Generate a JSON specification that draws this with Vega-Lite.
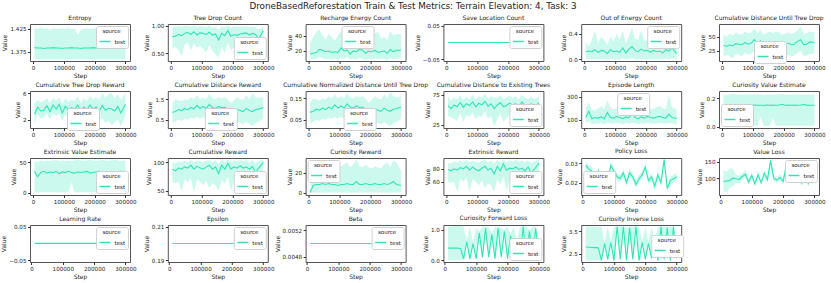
{
"$schema": "https://vega.github.io/schema/vega-lite/v6.json",
"title": {"text": "DroneBasedReforestation Train & Test Metrics: Terrain Elevation: 4, Task: 3", "fontSize": 8.8, "fontWeight": "normal", "anchor": "middle", "offset": 3, "font": "DejaVu Sans", "color": "#222"},
"padding": {"left": 0, "right": 0, "top": 2, "bottom": 0},
"columns": 6,
"spacing": {"row": 30, "column": 37.8},
"bounds": "flush",
"resolve": {"scale": {"color": "independent"}, "legend": {"color": "independent"}},
"config": {
 "font": "DejaVu Sans",
 "view": {"stroke": "#555", "strokeWidth": 1},
 "axis": {"grid": false, "domain": false, "labelFontSize": 5.6, "titleFontSize": 6, "titleFontWeight": "normal", "tickSize": 2.5, "tickColor": "#333", "labelColor": "#222", "titleColor": "#222", "labelPadding": 1.5, "titlePadding": 2},
 "axisX": {"labelFlush": false, "labelOverlap": false},
 "title": {"fontSize": 6, "fontWeight": "normal", "offset": 3, "color": "#222"},
 "legend": {"titleFontSize": 5.5, "labelFontSize": 5.5, "titleFontWeight": "normal", "symbolType": "stroke", "symbolStrokeWidth": 1.5, "symbolSize": 120, "padding": 2.5, "strokeColor": "#d0d0d0", "fillColor": "white", "cornerRadius": 2, "offset": 2, "titleAnchor": "middle", "titlePadding": 1, "labelOffset": 3, "titleColor": "#222", "labelColor": "#222"}
},
"datasets": {
"entropy": [
{"Step":5000,"Value":1.384,"lo":1.358,"hi":1.426},{"Step":15000,"Value":1.383,"lo":1.358,"hi":1.425},{"Step":25000,"Value":1.383,"lo":1.358,"hi":1.427},{"Step":35000,"Value":1.382,"lo":1.358,"hi":1.424},{"Step":45000,"Value":1.383,"lo":1.358,"hi":1.426},{"Step":55000,"Value":1.383,"lo":1.358,"hi":1.421},{"Step":65000,"Value":1.384,"lo":1.358,"hi":1.426},{"Step":75000,"Value":1.383,"lo":1.358,"hi":1.425},{"Step":85000,"Value":1.383,"lo":1.358,"hi":1.424},{"Step":95000,"Value":1.382,"lo":1.358,"hi":1.426},{"Step":105000,"Value":1.383,"lo":1.358,"hi":1.425},{"Step":115000,"Value":1.383,"lo":1.358,"hi":1.426},{"Step":125000,"Value":1.384,"lo":1.358,"hi":1.424},{"Step":135000,"Value":1.383,"lo":1.358,"hi":1.425},{"Step":145000,"Value":1.383,"lo":1.358,"hi":1.411},{"Step":155000,"Value":1.382,"lo":1.358,"hi":1.422},{"Step":165000,"Value":1.383,"lo":1.358,"hi":1.425},{"Step":175000,"Value":1.383,"lo":1.358,"hi":1.426},{"Step":185000,"Value":1.383,"lo":1.358,"hi":1.424},{"Step":195000,"Value":1.384,"lo":1.358,"hi":1.425},{"Step":205000,"Value":1.383,"lo":1.358,"hi":1.426},{"Step":215000,"Value":1.383,"lo":1.358,"hi":1.425},{"Step":225000,"Value":1.382,"lo":1.358,"hi":1.424},{"Step":235000,"Value":1.383,"lo":1.358,"hi":1.426},{"Step":245000,"Value":1.383,"lo":1.358,"hi":1.425},{"Step":255000,"Value":1.383,"lo":1.358,"hi":1.424},{"Step":265000,"Value":1.384,"lo":1.358,"hi":1.426},{"Step":275000,"Value":1.383,"lo":1.358,"hi":1.425},{"Step":285000,"Value":1.383,"lo":1.358,"hi":1.426},{"Step":300000,"Value":1.385,"lo":1.358,"hi":1.424}
],
"treedrop": [
{"Step":5000,"Value":0.80,"lo":0.58,"hi":0.97},{"Step":15000,"Value":0.81,"lo":0.62,"hi":0.98},{"Step":25000,"Value":0.84,"lo":0.55,"hi":0.99},{"Step":35000,"Value":0.82,"lo":0.45,"hi":0.97},{"Step":45000,"Value":0.86,"lo":0.66,"hi":1.0},{"Step":55000,"Value":0.88,"lo":0.70,"hi":0.99},{"Step":65000,"Value":0.84,"lo":0.55,"hi":0.98},{"Step":75000,"Value":0.89,"lo":0.68,"hi":1.0},{"Step":85000,"Value":0.83,"lo":0.60,"hi":0.97},{"Step":95000,"Value":0.87,"lo":0.63,"hi":0.99},{"Step":105000,"Value":0.86,"lo":0.58,"hi":0.98},{"Step":115000,"Value":0.84,"lo":0.52,"hi":0.97},{"Step":125000,"Value":0.88,"lo":0.65,"hi":1.0},{"Step":135000,"Value":0.83,"lo":0.55,"hi":0.96},{"Step":145000,"Value":0.85,"lo":0.48,"hi":0.98},{"Step":155000,"Value":0.74,"lo":0.42,"hi":0.92},{"Step":165000,"Value":0.86,"lo":0.62,"hi":0.99},{"Step":175000,"Value":0.82,"lo":0.50,"hi":0.97},{"Step":185000,"Value":0.91,"lo":0.70,"hi":1.0},{"Step":195000,"Value":0.81,"lo":0.55,"hi":0.96},{"Step":205000,"Value":0.84,"lo":0.62,"hi":0.98},{"Step":215000,"Value":0.82,"lo":0.58,"hi":0.97},{"Step":225000,"Value":0.85,"lo":0.64,"hi":0.99},{"Step":235000,"Value":0.86,"lo":0.66,"hi":0.98},{"Step":245000,"Value":0.87,"lo":0.60,"hi":0.99},{"Step":255000,"Value":0.83,"lo":0.57,"hi":0.97},{"Step":265000,"Value":0.86,"lo":0.63,"hi":0.98},{"Step":275000,"Value":0.84,"lo":0.60,"hi":0.97},{"Step":285000,"Value":0.76,"lo":0.50,"hi":0.93},{"Step":300000,"Value":0.91,"lo":0.74,"hi":0.99}
],
"recharge": [
{"Step":5000,"Value":16,"lo":10,"hi":30},{"Step":15000,"Value":17,"lo":9,"hi":38},{"Step":25000,"Value":18,"lo":10,"hi":45},{"Step":35000,"Value":22,"lo":12,"hi":48},{"Step":45000,"Value":21,"lo":11,"hi":40},{"Step":55000,"Value":19,"lo":9,"hi":35},{"Step":65000,"Value":20,"lo":10,"hi":42},{"Step":75000,"Value":18,"lo":9,"hi":38},{"Step":85000,"Value":19,"lo":10,"hi":33},{"Step":95000,"Value":18,"lo":8,"hi":40},{"Step":105000,"Value":24,"lo":11,"hi":46},{"Step":115000,"Value":20,"lo":10,"hi":38},{"Step":125000,"Value":21,"lo":12,"hi":45},{"Step":135000,"Value":16,"lo":9,"hi":30},{"Step":145000,"Value":20,"lo":10,"hi":35},{"Step":155000,"Value":19,"lo":9,"hi":40},{"Step":165000,"Value":22,"lo":11,"hi":44},{"Step":175000,"Value":21,"lo":10,"hi":42},{"Step":185000,"Value":17,"lo":8,"hi":35},{"Step":195000,"Value":20,"lo":10,"hi":40},{"Step":205000,"Value":19,"lo":9,"hi":38},{"Step":215000,"Value":21,"lo":11,"hi":43},{"Step":225000,"Value":18,"lo":9,"hi":45},{"Step":235000,"Value":19,"lo":10,"hi":36},{"Step":245000,"Value":20,"lo":10,"hi":38},{"Step":255000,"Value":17,"lo":8,"hi":34},{"Step":265000,"Value":22,"lo":11,"hi":46},{"Step":275000,"Value":19,"lo":9,"hi":40},{"Step":285000,"Value":21,"lo":10,"hi":42},{"Step":300000,"Value":21,"lo":11,"hi":42}
],
"saveloc": [
{"Step":5000,"Value":0,"lo":0,"hi":0},{"Step":300000,"Value":0,"lo":0,"hi":0}
],
"outenergy": [
{"Step":5000,"Value":0.12,"lo":0.0,"hi":0.27},{"Step":15000,"Value":0.13,"lo":0.01,"hi":0.20},{"Step":25000,"Value":0.12,"lo":0.0,"hi":0.30},{"Step":35000,"Value":0.15,"lo":0.0,"hi":0.45},{"Step":45000,"Value":0.11,"lo":0.0,"hi":0.25},{"Step":55000,"Value":0.14,"lo":0.01,"hi":0.35},{"Step":65000,"Value":0.13,"lo":0.0,"hi":0.30},{"Step":75000,"Value":0.09,"lo":0.0,"hi":0.22},{"Step":85000,"Value":0.15,"lo":0.01,"hi":0.35},{"Step":95000,"Value":0.12,"lo":0.0,"hi":0.28},{"Step":105000,"Value":0.13,"lo":0.0,"hi":0.40},{"Step":115000,"Value":0.11,"lo":0.0,"hi":0.30},{"Step":125000,"Value":0.18,"lo":0.02,"hi":0.45},{"Step":135000,"Value":0.10,"lo":0.0,"hi":0.25},{"Step":145000,"Value":0.16,"lo":0.01,"hi":0.35},{"Step":155000,"Value":0.20,"lo":0.02,"hi":0.50},{"Step":165000,"Value":0.14,"lo":0.0,"hi":0.32},{"Step":175000,"Value":0.12,"lo":0.0,"hi":0.30},{"Step":185000,"Value":0.16,"lo":0.01,"hi":0.45},{"Step":195000,"Value":0.13,"lo":0.0,"hi":0.28},{"Step":205000,"Value":0.14,"lo":0.0,"hi":0.30},{"Step":215000,"Value":0.11,"lo":0.0,"hi":0.25},{"Step":225000,"Value":0.14,"lo":0.0,"hi":0.40},{"Step":235000,"Value":0.12,"lo":0.0,"hi":0.30},{"Step":245000,"Value":0.13,"lo":0.0,"hi":0.35},{"Step":255000,"Value":0.10,"lo":0.0,"hi":0.26},{"Step":265000,"Value":0.15,"lo":0.01,"hi":0.40},{"Step":275000,"Value":0.13,"lo":0.0,"hi":0.30},{"Step":285000,"Value":0.18,"lo":0.02,"hi":0.42},{"Step":300000,"Value":0.09,"lo":0.0,"hi":0.25}
],
"cumdist": [
{"Step":5000,"Value":35,"lo":15,"hi":55},{"Step":15000,"Value":33,"lo":18,"hi":50},{"Step":25000,"Value":36,"lo":16,"hi":56},{"Step":35000,"Value":34,"lo":12,"hi":52},{"Step":45000,"Value":38,"lo":20,"hi":58},{"Step":55000,"Value":37,"lo":18,"hi":55},{"Step":65000,"Value":36,"lo":15,"hi":54},{"Step":75000,"Value":40,"lo":22,"hi":60},{"Step":85000,"Value":37,"lo":18,"hi":56},{"Step":95000,"Value":39,"lo":20,"hi":58},{"Step":105000,"Value":45,"lo":25,"hi":65},{"Step":115000,"Value":38,"lo":18,"hi":57},{"Step":125000,"Value":43,"lo":22,"hi":62},{"Step":135000,"Value":36,"lo":14,"hi":54},{"Step":145000,"Value":38,"lo":18,"hi":57},{"Step":155000,"Value":40,"lo":20,"hi":60},{"Step":165000,"Value":37,"lo":17,"hi":56},{"Step":175000,"Value":41,"lo":20,"hi":60},{"Step":185000,"Value":38,"lo":18,"hi":58},{"Step":195000,"Value":36,"lo":15,"hi":54},{"Step":205000,"Value":37,"lo":16,"hi":56},{"Step":215000,"Value":39,"lo":18,"hi":58},{"Step":225000,"Value":36,"lo":15,"hi":55},{"Step":235000,"Value":37,"lo":17,"hi":57},{"Step":245000,"Value":42,"lo":22,"hi":62},{"Step":255000,"Value":45,"lo":25,"hi":68},{"Step":265000,"Value":36,"lo":16,"hi":55},{"Step":275000,"Value":37,"lo":17,"hi":56},{"Step":285000,"Value":41,"lo":20,"hi":60},{"Step":300000,"Value":40,"lo":20,"hi":58}
],
"treereward": [
{"Step":5000,"Value":2.8,"lo":1.5,"hi":4.4},{"Step":15000,"Value":3.9,"lo":2.8,"hi":5.0},{"Step":25000,"Value":3.3,"lo":2.2,"hi":4.6},{"Step":35000,"Value":3.4,"lo":2.3,"hi":4.8},{"Step":45000,"Value":4.1,"lo":3.0,"hi":5.2},{"Step":55000,"Value":3.2,"lo":2.0,"hi":4.5},{"Step":65000,"Value":4.2,"lo":3.0,"hi":5.3},{"Step":75000,"Value":3.6,"lo":2.5,"hi":4.8},{"Step":85000,"Value":4.3,"lo":3.0,"hi":5.4},{"Step":95000,"Value":3.0,"lo":1.8,"hi":4.3},{"Step":105000,"Value":4.0,"lo":2.8,"hi":5.2},{"Step":115000,"Value":3.5,"lo":2.3,"hi":4.7},{"Step":125000,"Value":3.8,"lo":2.6,"hi":5.0},{"Step":135000,"Value":3.6,"lo":2.4,"hi":4.8},{"Step":145000,"Value":4.2,"lo":2.9,"hi":5.5},{"Step":155000,"Value":3.3,"lo":2.0,"hi":4.5},{"Step":165000,"Value":3.9,"lo":2.6,"hi":5.2},{"Step":175000,"Value":3.5,"lo":2.2,"hi":4.8},{"Step":185000,"Value":4.2,"lo":2.8,"hi":5.6},{"Step":195000,"Value":3.6,"lo":2.1,"hi":5.0},{"Step":205000,"Value":3.9,"lo":2.4,"hi":5.4},{"Step":215000,"Value":3.3,"lo":1.8,"hi":5.0},{"Step":225000,"Value":4.1,"lo":2.2,"hi":6.0},{"Step":235000,"Value":3.4,"lo":1.5,"hi":5.3},{"Step":245000,"Value":3.7,"lo":1.8,"hi":5.8},{"Step":255000,"Value":3.6,"lo":1.2,"hi":6.0},{"Step":265000,"Value":3.3,"lo":1.5,"hi":5.2},{"Step":275000,"Value":4.0,"lo":2.0,"hi":5.8},{"Step":285000,"Value":3.0,"lo":1.0,"hi":5.0},{"Step":300000,"Value":4.3,"lo":2.6,"hi":6.0}
],
"distreward": [
{"Step":5000,"Value":0.85,"lo":0.35,"hi":1.3},{"Step":15000,"Value":0.90,"lo":0.4,"hi":1.5},{"Step":25000,"Value":1.00,"lo":0.5,"hi":1.45},{"Step":35000,"Value":0.95,"lo":0.45,"hi":1.4},{"Step":45000,"Value":1.05,"lo":0.55,"hi":1.5},{"Step":55000,"Value":0.98,"lo":0.5,"hi":1.45},{"Step":65000,"Value":1.10,"lo":0.6,"hi":1.6},{"Step":75000,"Value":1.02,"lo":0.55,"hi":1.5},{"Step":85000,"Value":1.20,"lo":0.65,"hi":1.7},{"Step":95000,"Value":1.05,"lo":0.55,"hi":1.5},{"Step":105000,"Value":1.15,"lo":0.65,"hi":1.6},{"Step":115000,"Value":1.05,"lo":0.55,"hi":1.5},{"Step":125000,"Value":1.25,"lo":0.7,"hi":1.75},{"Step":135000,"Value":1.10,"lo":0.6,"hi":1.55},{"Step":145000,"Value":1.05,"lo":0.55,"hi":1.5},{"Step":155000,"Value":1.15,"lo":0.65,"hi":1.6},{"Step":165000,"Value":1.08,"lo":0.6,"hi":1.55},{"Step":175000,"Value":1.10,"lo":0.55,"hi":1.6},{"Step":185000,"Value":1.00,"lo":0.45,"hi":1.5},{"Step":195000,"Value":0.75,"lo":0.25,"hi":1.3},{"Step":205000,"Value":0.90,"lo":0.3,"hi":1.45},{"Step":215000,"Value":1.00,"lo":0.4,"hi":1.6},{"Step":225000,"Value":0.95,"lo":0.35,"hi":1.5},{"Step":235000,"Value":0.90,"lo":0.3,"hi":1.45},{"Step":245000,"Value":1.05,"lo":0.4,"hi":1.7},{"Step":255000,"Value":0.95,"lo":0.3,"hi":1.5},{"Step":265000,"Value":0.90,"lo":0.2,"hi":1.8},{"Step":275000,"Value":1.00,"lo":0.35,"hi":1.6},{"Step":285000,"Value":1.02,"lo":0.4,"hi":1.55},{"Step":300000,"Value":1.10,"lo":0.55,"hi":1.6}
],
"normdist": [
{"Step":5000,"Value":0.085,"lo":0.035,"hi":0.13},{"Step":15000,"Value":0.09,"lo":0.04,"hi":0.15},{"Step":25000,"Value":0.10,"lo":0.05,"hi":0.145},{"Step":35000,"Value":0.095,"lo":0.045,"hi":0.14},{"Step":45000,"Value":0.105,"lo":0.055,"hi":0.15},{"Step":55000,"Value":0.098,"lo":0.05,"hi":0.145},{"Step":65000,"Value":0.11,"lo":0.06,"hi":0.16},{"Step":75000,"Value":0.102,"lo":0.055,"hi":0.15},{"Step":85000,"Value":0.12,"lo":0.065,"hi":0.17},{"Step":95000,"Value":0.105,"lo":0.055,"hi":0.15},{"Step":105000,"Value":0.115,"lo":0.065,"hi":0.16},{"Step":115000,"Value":0.105,"lo":0.055,"hi":0.15},{"Step":125000,"Value":0.125,"lo":0.07,"hi":0.175},{"Step":135000,"Value":0.11,"lo":0.06,"hi":0.155},{"Step":145000,"Value":0.105,"lo":0.055,"hi":0.15},{"Step":155000,"Value":0.115,"lo":0.065,"hi":0.16},{"Step":165000,"Value":0.108,"lo":0.06,"hi":0.155},{"Step":175000,"Value":0.11,"lo":0.055,"hi":0.16},{"Step":185000,"Value":0.10,"lo":0.045,"hi":0.15},{"Step":195000,"Value":0.075,"lo":0.025,"hi":0.13},{"Step":205000,"Value":0.09,"lo":0.03,"hi":0.145},{"Step":215000,"Value":0.10,"lo":0.04,"hi":0.16},{"Step":225000,"Value":0.095,"lo":0.035,"hi":0.15},{"Step":235000,"Value":0.09,"lo":0.03,"hi":0.145},{"Step":245000,"Value":0.105,"lo":0.04,"hi":0.17},{"Step":255000,"Value":0.095,"lo":0.03,"hi":0.15},{"Step":265000,"Value":0.09,"lo":0.02,"hi":0.18},{"Step":275000,"Value":0.10,"lo":0.035,"hi":0.16},{"Step":285000,"Value":0.102,"lo":0.04,"hi":0.155},{"Step":300000,"Value":0.11,"lo":0.055,"hi":0.16}
],
"existing": [
{"Step":5000,"Value":57,"lo":40,"hi":72},{"Step":15000,"Value":52,"lo":38,"hi":65},{"Step":25000,"Value":58,"lo":35,"hi":70},{"Step":35000,"Value":55,"lo":32,"hi":68},{"Step":45000,"Value":62,"lo":45,"hi":74},{"Step":55000,"Value":54,"lo":30,"hi":66},{"Step":65000,"Value":60,"lo":42,"hi":72},{"Step":75000,"Value":57,"lo":38,"hi":68},{"Step":85000,"Value":63,"lo":45,"hi":75},{"Step":95000,"Value":55,"lo":35,"hi":67},{"Step":105000,"Value":61,"lo":40,"hi":72},{"Step":115000,"Value":58,"lo":38,"hi":70},{"Step":125000,"Value":64,"lo":48,"hi":76},{"Step":135000,"Value":56,"lo":35,"hi":68},{"Step":145000,"Value":60,"lo":40,"hi":72},{"Step":155000,"Value":52,"lo":22,"hi":70},{"Step":165000,"Value":58,"lo":35,"hi":70},{"Step":175000,"Value":62,"lo":45,"hi":74},{"Step":185000,"Value":55,"lo":30,"hi":68},{"Step":195000,"Value":57,"lo":36,"hi":70},{"Step":205000,"Value":61,"lo":42,"hi":73},{"Step":215000,"Value":58,"lo":38,"hi":70},{"Step":225000,"Value":60,"lo":40,"hi":72},{"Step":235000,"Value":54,"lo":32,"hi":67},{"Step":245000,"Value":63,"lo":45,"hi":75},{"Step":255000,"Value":57,"lo":36,"hi":70},{"Step":265000,"Value":55,"lo":35,"hi":68},{"Step":275000,"Value":60,"lo":40,"hi":72},{"Step":285000,"Value":52,"lo":32,"hi":68},{"Step":300000,"Value":62,"lo":48,"hi":72}
],
"eplen": [
{"Step":5000,"Value":120,"lo":70,"hi":200},{"Step":15000,"Value":175,"lo":90,"hi":250},{"Step":25000,"Value":110,"lo":60,"hi":190},{"Step":35000,"Value":120,"lo":70,"hi":180},{"Step":45000,"Value":115,"lo":65,"hi":200},{"Step":55000,"Value":125,"lo":75,"hi":220},{"Step":65000,"Value":110,"lo":60,"hi":190},{"Step":75000,"Value":165,"lo":80,"hi":270},{"Step":85000,"Value":120,"lo":70,"hi":210},{"Step":95000,"Value":115,"lo":65,"hi":190},{"Step":105000,"Value":130,"lo":75,"hi":200},{"Step":115000,"Value":120,"lo":70,"hi":190},{"Step":125000,"Value":110,"lo":60,"hi":180},{"Step":135000,"Value":125,"lo":75,"hi":200},{"Step":145000,"Value":115,"lo":65,"hi":190},{"Step":155000,"Value":180,"lo":80,"hi":290},{"Step":165000,"Value":120,"lo":70,"hi":210},{"Step":175000,"Value":110,"lo":60,"hi":190},{"Step":185000,"Value":125,"lo":70,"hi":200},{"Step":195000,"Value":115,"lo":65,"hi":190},{"Step":205000,"Value":130,"lo":75,"hi":200},{"Step":215000,"Value":120,"lo":70,"hi":190},{"Step":225000,"Value":115,"lo":65,"hi":195},{"Step":235000,"Value":125,"lo":70,"hi":210},{"Step":245000,"Value":130,"lo":75,"hi":220},{"Step":255000,"Value":120,"lo":70,"hi":200},{"Step":265000,"Value":115,"lo":65,"hi":190},{"Step":275000,"Value":150,"lo":75,"hi":320},{"Step":285000,"Value":120,"lo":70,"hi":210},{"Step":300000,"Value":112,"lo":60,"hi":190}
],
"curval": [
{"Step":5000,"Value":0.150,"lo":0.0,"hi":0.225},{"Step":15000,"Value":0.140,"lo":0.005,"hi":0.22},{"Step":25000,"Value":0.150,"lo":0.005,"hi":0.225},{"Step":35000,"Value":0.152,"lo":0.005,"hi":0.23},{"Step":45000,"Value":0.150,"lo":0.005,"hi":0.225},{"Step":55000,"Value":0.151,"lo":0.005,"hi":0.226},{"Step":65000,"Value":0.150,"lo":0.005,"hi":0.224},{"Step":75000,"Value":0.152,"lo":0.005,"hi":0.225},{"Step":85000,"Value":0.150,"lo":0.005,"hi":0.226},{"Step":95000,"Value":0.151,"lo":0.005,"hi":0.225},{"Step":105000,"Value":0.152,"lo":0.005,"hi":0.224},{"Step":115000,"Value":0.150,"lo":0.005,"hi":0.226},{"Step":125000,"Value":0.150,"lo":0.07,"hi":0.225},{"Step":135000,"Value":0.148,"lo":0.005,"hi":0.222},{"Step":145000,"Value":0.152,"lo":0.005,"hi":0.225},{"Step":155000,"Value":0.150,"lo":0.005,"hi":0.226},{"Step":165000,"Value":0.151,"lo":0.06,"hi":0.224},{"Step":175000,"Value":0.150,"lo":0.005,"hi":0.225},{"Step":185000,"Value":0.152,"lo":0.005,"hi":0.226},{"Step":195000,"Value":0.157,"lo":0.005,"hi":0.23},{"Step":205000,"Value":0.150,"lo":0.005,"hi":0.225},{"Step":215000,"Value":0.151,"lo":0.005,"hi":0.224},{"Step":225000,"Value":0.150,"lo":0.005,"hi":0.225},{"Step":235000,"Value":0.152,"lo":0.005,"hi":0.226},{"Step":245000,"Value":0.150,"lo":0.005,"hi":0.225},{"Step":255000,"Value":0.152,"lo":0.005,"hi":0.224},{"Step":265000,"Value":0.155,"lo":0.005,"hi":0.225},{"Step":275000,"Value":0.151,"lo":0.005,"hi":0.226},{"Step":285000,"Value":0.150,"lo":0.005,"hi":0.224},{"Step":300000,"Value":0.150,"lo":0.005,"hi":0.225}
],
"extval": [
{"Step":5000,"Value":35,"lo":0.5,"hi":52},{"Step":15000,"Value":26,"lo":0.5,"hi":50},{"Step":25000,"Value":33,"lo":0.5,"hi":53},{"Step":35000,"Value":35,"lo":0.5,"hi":52},{"Step":45000,"Value":32,"lo":0.5,"hi":53},{"Step":55000,"Value":34,"lo":0.5,"hi":52},{"Step":65000,"Value":33,"lo":0.5,"hi":53},{"Step":75000,"Value":35,"lo":0.5,"hi":54},{"Step":85000,"Value":31,"lo":0.5,"hi":52},{"Step":95000,"Value":34,"lo":0.5,"hi":53},{"Step":105000,"Value":33,"lo":0.5,"hi":52},{"Step":115000,"Value":35,"lo":0.5,"hi":53},{"Step":125000,"Value":33,"lo":17,"hi":52},{"Step":135000,"Value":32,"lo":0.5,"hi":53},{"Step":145000,"Value":34,"lo":0.5,"hi":54},{"Step":155000,"Value":33,"lo":0.5,"hi":53},{"Step":165000,"Value":34,"lo":0.5,"hi":52},{"Step":175000,"Value":35,"lo":0.5,"hi":53},{"Step":185000,"Value":32,"lo":0.5,"hi":54},{"Step":195000,"Value":33,"lo":0.5,"hi":53},{"Step":205000,"Value":34,"lo":0.5,"hi":52},{"Step":215000,"Value":35,"lo":0.5,"hi":53},{"Step":225000,"Value":34,"lo":0.5,"hi":54},{"Step":235000,"Value":33,"lo":0.5,"hi":53},{"Step":245000,"Value":34,"lo":0.5,"hi":52},{"Step":255000,"Value":33,"lo":0.5,"hi":53},{"Step":265000,"Value":32,"lo":0.5,"hi":54},{"Step":275000,"Value":34,"lo":0.5,"hi":53},{"Step":285000,"Value":35,"lo":0.5,"hi":52},{"Step":300000,"Value":34,"lo":0.5,"hi":53}
],
"cumreward": [
{"Step":5000,"Value":88,"lo":66,"hi":100},{"Step":15000,"Value":85,"lo":64,"hi":98},{"Step":25000,"Value":90,"lo":66,"hi":102},{"Step":35000,"Value":88,"lo":50,"hi":100},{"Step":45000,"Value":92,"lo":70,"hi":103},{"Step":55000,"Value":90,"lo":65,"hi":100},{"Step":65000,"Value":95,"lo":72,"hi":104},{"Step":75000,"Value":88,"lo":48,"hi":100},{"Step":85000,"Value":93,"lo":70,"hi":103},{"Step":95000,"Value":90,"lo":66,"hi":102},{"Step":105000,"Value":88,"lo":60,"hi":100},{"Step":115000,"Value":92,"lo":68,"hi":103},{"Step":125000,"Value":95,"lo":55,"hi":104},{"Step":135000,"Value":88,"lo":64,"hi":100},{"Step":145000,"Value":92,"lo":60,"hi":103},{"Step":155000,"Value":80,"lo":50,"hi":97},{"Step":165000,"Value":95,"lo":70,"hi":104},{"Step":175000,"Value":88,"lo":62,"hi":100},{"Step":185000,"Value":98,"lo":75,"hi":105},{"Step":195000,"Value":88,"lo":50,"hi":100},{"Step":205000,"Value":92,"lo":68,"hi":103},{"Step":215000,"Value":90,"lo":66,"hi":102},{"Step":225000,"Value":94,"lo":70,"hi":104},{"Step":235000,"Value":90,"lo":65,"hi":102},{"Step":245000,"Value":92,"lo":68,"hi":103},{"Step":255000,"Value":88,"lo":50,"hi":100},{"Step":265000,"Value":93,"lo":70,"hi":104},{"Step":275000,"Value":82,"lo":48,"hi":98},{"Step":285000,"Value":90,"lo":68,"hi":102},{"Step":300000,"Value":100,"lo":82,"hi":105}
],
"curreward": [
{"Step":5000,"Value":0,"lo":0,"hi":0},{"Step":15000,"Value":7,"lo":0,"hi":25},{"Step":25000,"Value":8,"lo":0,"hi":28},{"Step":35000,"Value":8,"lo":0,"hi":30},{"Step":45000,"Value":9,"lo":0,"hi":28},{"Step":55000,"Value":8,"lo":0,"hi":30},{"Step":65000,"Value":9,"lo":0,"hi":28},{"Step":75000,"Value":8,"lo":0,"hi":26},{"Step":85000,"Value":8,"lo":0,"hi":28},{"Step":95000,"Value":7,"lo":0,"hi":27},{"Step":105000,"Value":8,"lo":0,"hi":26},{"Step":115000,"Value":8,"lo":0,"hi":28},{"Step":125000,"Value":9,"lo":0,"hi":30},{"Step":135000,"Value":8,"lo":0,"hi":25},{"Step":145000,"Value":8,"lo":0,"hi":28},{"Step":155000,"Value":11,"lo":0,"hi":33},{"Step":165000,"Value":8,"lo":0,"hi":26},{"Step":175000,"Value":8,"lo":0,"hi":25},{"Step":185000,"Value":9,"lo":0,"hi":28},{"Step":195000,"Value":8,"lo":0,"hi":25},{"Step":205000,"Value":8,"lo":0,"hi":24},{"Step":215000,"Value":9,"lo":0,"hi":26},{"Step":225000,"Value":8,"lo":0,"hi":25},{"Step":235000,"Value":8,"lo":0,"hi":24},{"Step":245000,"Value":9,"lo":0,"hi":28},{"Step":255000,"Value":8,"lo":0,"hi":30},{"Step":265000,"Value":9,"lo":0,"hi":25},{"Step":275000,"Value":11,"lo":0,"hi":32},{"Step":285000,"Value":8,"lo":0,"hi":30},{"Step":300000,"Value":7,"lo":0,"hi":22}
],
"extreward": [
{"Step":5000,"Value":79,"lo":60,"hi":90},{"Step":15000,"Value":77,"lo":58,"hi":88},{"Step":25000,"Value":80,"lo":60,"hi":92},{"Step":35000,"Value":78,"lo":44,"hi":90},{"Step":45000,"Value":82,"lo":64,"hi":93},{"Step":55000,"Value":80,"lo":60,"hi":90},{"Step":65000,"Value":84,"lo":66,"hi":94},{"Step":75000,"Value":78,"lo":44,"hi":90},{"Step":85000,"Value":83,"lo":64,"hi":93},{"Step":95000,"Value":79,"lo":60,"hi":91},{"Step":105000,"Value":77,"lo":54,"hi":90},{"Step":115000,"Value":81,"lo":62,"hi":93},{"Step":125000,"Value":84,"lo":50,"hi":94},{"Step":135000,"Value":78,"lo":58,"hi":90},{"Step":145000,"Value":81,"lo":54,"hi":93},{"Step":155000,"Value":72,"lo":44,"hi":88},{"Step":165000,"Value":84,"lo":64,"hi":94},{"Step":175000,"Value":77,"lo":56,"hi":90},{"Step":185000,"Value":88,"lo":68,"hi":95},{"Step":195000,"Value":78,"lo":45,"hi":90},{"Step":205000,"Value":81,"lo":62,"hi":93},{"Step":215000,"Value":80,"lo":60,"hi":91},{"Step":225000,"Value":83,"lo":64,"hi":94},{"Step":235000,"Value":79,"lo":58,"hi":91},{"Step":245000,"Value":81,"lo":62,"hi":93},{"Step":255000,"Value":77,"lo":44,"hi":90},{"Step":265000,"Value":83,"lo":64,"hi":93},{"Step":275000,"Value":74,"lo":44,"hi":89},{"Step":285000,"Value":79,"lo":62,"hi":92},{"Step":300000,"Value":89,"lo":74,"hi":95}
],
"policy": [
{"Step":10000,"Value":0.029,"lo":0.026,"hi":0.031},{"Step":20000,"Value":0.027,"lo":0.024,"hi":0.029},{"Step":30000,"Value":0.026,"lo":0.024,"hi":0.028},{"Step":40000,"Value":0.020,"lo":0.018,"hi":0.022},{"Step":50000,"Value":0.026,"lo":0.024,"hi":0.028},{"Step":60000,"Value":0.023,"lo":0.021,"hi":0.025},{"Step":70000,"Value":0.022,"lo":0.020,"hi":0.024},{"Step":80000,"Value":0.020,"lo":0.018,"hi":0.022},{"Step":90000,"Value":0.029,"lo":0.027,"hi":0.031},{"Step":100000,"Value":0.026,"lo":0.024,"hi":0.028},{"Step":110000,"Value":0.023,"lo":0.021,"hi":0.025},{"Step":120000,"Value":0.022,"lo":0.020,"hi":0.024},{"Step":130000,"Value":0.025,"lo":0.023,"hi":0.027},{"Step":140000,"Value":0.020,"lo":0.018,"hi":0.022},{"Step":150000,"Value":0.025,"lo":0.023,"hi":0.027},{"Step":160000,"Value":0.023,"lo":0.021,"hi":0.025},{"Step":170000,"Value":0.019,"lo":0.017,"hi":0.021},{"Step":180000,"Value":0.022,"lo":0.020,"hi":0.024},{"Step":190000,"Value":0.024,"lo":0.022,"hi":0.026},{"Step":200000,"Value":0.028,"lo":0.026,"hi":0.030},{"Step":210000,"Value":0.021,"lo":0.019,"hi":0.023},{"Step":220000,"Value":0.023,"lo":0.021,"hi":0.025},{"Step":230000,"Value":0.018,"lo":0.016,"hi":0.020},{"Step":240000,"Value":0.024,"lo":0.022,"hi":0.026},{"Step":250000,"Value":0.020,"lo":0.018,"hi":0.022},{"Step":260000,"Value":0.032,"lo":0.028,"hi":0.0325},{"Step":270000,"Value":0.017,"lo":0.015,"hi":0.019},{"Step":280000,"Value":0.021,"lo":0.019,"hi":0.023},{"Step":290000,"Value":0.022,"lo":0.020,"hi":0.024},{"Step":300000,"Value":0.023,"lo":0.021,"hi":0.025}
],
"valueloss": [
{"Step":10000,"Value":90,"lo":60,"hi":125},{"Step":20000,"Value":91,"lo":55,"hi":120},{"Step":30000,"Value":93,"lo":70,"hi":130},{"Step":40000,"Value":100,"lo":75,"hi":130},{"Step":50000,"Value":98,"lo":85,"hi":110},{"Step":60000,"Value":96,"lo":85,"hi":108},{"Step":70000,"Value":105,"lo":95,"hi":115},{"Step":80000,"Value":112,"lo":100,"hi":125},{"Step":90000,"Value":88,"lo":80,"hi":97},{"Step":100000,"Value":108,"lo":98,"hi":118},{"Step":110000,"Value":82,"lo":74,"hi":92},{"Step":120000,"Value":110,"lo":100,"hi":120},{"Step":130000,"Value":86,"lo":78,"hi":95},{"Step":140000,"Value":115,"lo":104,"hi":126},{"Step":150000,"Value":95,"lo":86,"hi":104},{"Step":160000,"Value":155,"lo":130,"hi":160},{"Step":170000,"Value":100,"lo":90,"hi":110},{"Step":180000,"Value":94,"lo":85,"hi":103},{"Step":190000,"Value":102,"lo":92,"hi":112},{"Step":200000,"Value":90,"lo":82,"hi":99},{"Step":210000,"Value":138,"lo":120,"hi":150},{"Step":220000,"Value":96,"lo":86,"hi":106},{"Step":230000,"Value":108,"lo":96,"hi":120},{"Step":240000,"Value":92,"lo":83,"hi":101},{"Step":250000,"Value":112,"lo":100,"hi":124},{"Step":260000,"Value":85,"lo":76,"hi":94},{"Step":270000,"Value":118,"lo":104,"hi":130},{"Step":280000,"Value":84,"lo":75,"hi":93},{"Step":290000,"Value":110,"lo":98,"hi":122},{"Step":300000,"Value":100,"lo":90,"hi":110}
],
"lr": [
{"Step":10000,"Value":0.0003,"lo":0.0003,"hi":0.0003},{"Step":300000,"Value":0.0003,"lo":0.0003,"hi":0.0003}
],
"eps": [
{"Step":10000,"Value":0.2,"lo":0.2,"hi":0.2},{"Step":300000,"Value":0.2,"lo":0.2,"hi":0.2}
],
"beta": [
{"Step":10000,"Value":0.005,"lo":0.005,"hi":0.005},{"Step":300000,"Value":0.005,"lo":0.005,"hi":0.005}
],
"fwd": [
{"Step":10000,"Value":0.40,"lo":0.0,"hi":1.10},{"Step":20000,"Value":0.40,"lo":0.0,"hi":1.10},{"Step":30000,"Value":0.40,"lo":0.0,"hi":1.12},{"Step":40000,"Value":0.40,"lo":0.0,"hi":1.12},{"Step":50000,"Value":0.39,"lo":0.0,"hi":1.13},{"Step":60000,"Value":0.05,"lo":0.0,"hi":1.10},{"Step":70000,"Value":0.60,"lo":0.55,"hi":0.65},{"Step":80000,"Value":0.05,"lo":0.0,"hi":1.10},{"Step":90000,"Value":0.55,"lo":0.50,"hi":0.60},{"Step":100000,"Value":0.05,"lo":0.0,"hi":1.05},{"Step":110000,"Value":0.90,"lo":0.85,"hi":0.95},{"Step":120000,"Value":0.10,"lo":0.05,"hi":1.10},{"Step":130000,"Value":1.05,"lo":1.0,"hi":1.10},{"Step":140000,"Value":0.10,"lo":0.05,"hi":1.08},{"Step":150000,"Value":0.85,"lo":0.80,"hi":0.90},{"Step":160000,"Value":0.05,"lo":0.0,"hi":1.10},{"Step":170000,"Value":1.05,"lo":1.0,"hi":1.10},{"Step":180000,"Value":0.10,"lo":0.05,"hi":1.05},{"Step":190000,"Value":0.95,"lo":0.90,"hi":1.0},{"Step":200000,"Value":0.05,"lo":0.0,"hi":1.10},{"Step":210000,"Value":0.80,"lo":0.75,"hi":0.85},{"Step":220000,"Value":0.10,"lo":0.05,"hi":1.10},{"Step":230000,"Value":0.60,"lo":0.55,"hi":0.65},{"Step":240000,"Value":0.05,"lo":0.0,"hi":1.08},{"Step":250000,"Value":1.10,"lo":1.05,"hi":1.12},{"Step":260000,"Value":0.05,"lo":0.0,"hi":1.10},{"Step":270000,"Value":0.95,"lo":0.90,"hi":1.0},{"Step":280000,"Value":0.05,"lo":0.0,"hi":1.10},{"Step":290000,"Value":1.05,"lo":1.0,"hi":1.10},{"Step":300000,"Value":0.10,"lo":0.05,"hi":0.15}
],
"inv": [
{"Step":10000,"Value":2.80,"lo":2.2,"hi":3.7},{"Step":20000,"Value":2.79,"lo":2.2,"hi":3.7},{"Step":30000,"Value":2.78,"lo":2.2,"hi":3.7},{"Step":40000,"Value":2.77,"lo":2.2,"hi":3.7},{"Step":50000,"Value":2.76,"lo":2.2,"hi":3.68},{"Step":60000,"Value":2.20,"lo":2.17,"hi":3.7},{"Step":70000,"Value":2.95,"lo":2.9,"hi":3.0},{"Step":80000,"Value":2.25,"lo":2.22,"hi":3.7},{"Step":90000,"Value":3.00,"lo":2.95,"hi":3.05},{"Step":100000,"Value":2.20,"lo":2.17,"hi":3.68},{"Step":110000,"Value":3.70,"lo":3.65,"hi":3.72},{"Step":120000,"Value":2.25,"lo":2.22,"hi":3.7},{"Step":130000,"Value":3.70,"lo":3.65,"hi":3.72},{"Step":140000,"Value":2.20,"lo":2.17,"hi":3.66},{"Step":150000,"Value":3.65,"lo":3.6,"hi":3.7},{"Step":160000,"Value":2.25,"lo":2.22,"hi":3.7},{"Step":170000,"Value":3.70,"lo":3.65,"hi":3.72},{"Step":180000,"Value":2.20,"lo":2.17,"hi":3.68},{"Step":190000,"Value":3.00,"lo":2.95,"hi":3.05},{"Step":200000,"Value":2.25,"lo":2.22,"hi":3.7},{"Step":210000,"Value":2.95,"lo":2.9,"hi":3.0},{"Step":220000,"Value":2.30,"lo":2.27,"hi":3.7},{"Step":230000,"Value":3.00,"lo":2.95,"hi":3.05},{"Step":240000,"Value":2.20,"lo":2.17,"hi":3.68},{"Step":250000,"Value":3.70,"lo":3.65,"hi":3.72},{"Step":260000,"Value":2.25,"lo":2.22,"hi":3.7},{"Step":270000,"Value":3.65,"lo":3.6,"hi":3.7},{"Step":280000,"Value":2.20,"lo":2.17,"hi":3.7},{"Step":290000,"Value":3.70,"lo":3.65,"hi":3.72},{"Step":300000,"Value":2.30,"lo":2.27,"hi":2.35}
]
},
"concat": [
{"title": "Entropy", "width": 100, "height": 37, "data": {"name": "entropy"},
 "encoding": {"x": {"field": "Step", "type": "quantitative", "title": "Step", "scale": {"domain": [-9750, 314750], "nice": false, "zero": false}, "axis": {"values": [0, 100000, 200000, 300000], "format": "d"}}},
 "layer": [
  {"mark": {"type": "area", "color": "#2ee6b6", "opacity": 0.25}, "encoding": {"y": {"field": "lo", "type": "quantitative", "title": "Value", "scale": {"domain": [1.355, 1.435], "nice": false, "zero": false}, "axis": {"values": [1.375, 1.4, 1.425], "format": ".3f"}}, "y2": {"field": "hi"}}},
  {"mark": {"type": "line", "strokeWidth": 1.1}, "encoding": {"y": {"field": "Value", "type": "quantitative", "title": "Value", "scale": {"domain": [1.355, 1.435], "nice": false, "zero": false}}, "color": {"datum": "test", "type": "nominal", "scale": {"range": ["#2ee6b6"]}, "legend": {"title": "source", "orient": "top-right"}}}}
 ]},
{"title": "Tree Drop Count", "width": 100, "height": 37, "data": {"name": "treedrop"},
 "encoding": {"x": {"field": "Step", "type": "quantitative", "title": "Step", "scale": {"domain": [-9750, 314750], "nice": false, "zero": false}, "axis": {"values": [0, 100000, 200000, 300000], "format": "d"}}},
 "layer": [
  {"mark": {"type": "area", "color": "#2ee6b6", "opacity": 0.25}, "encoding": {"y": {"field": "lo", "type": "quantitative", "title": "Value", "scale": {"domain": [0.36, 1.03], "nice": false, "zero": false}, "axis": {"values": [0.5, 0.75, 1.0], "format": ".2f"}}, "y2": {"field": "hi"}}},
  {"mark": {"type": "line", "strokeWidth": 1.1}, "encoding": {"y": {"field": "Value", "type": "quantitative", "title": "Value", "scale": {"domain": [0.36, 1.03], "nice": false, "zero": false}}, "color": {"datum": "test", "type": "nominal", "scale": {"range": ["#2ee6b6"]}, "legend": {"title": "source", "orient": "bottom-right"}}}}
 ]},
{"title": "Recharge Energy Count", "width": 100, "height": 37, "data": {"name": "recharge"},
 "encoding": {"x": {"field": "Step", "type": "quantitative", "title": "Step", "scale": {"domain": [-9750, 314750], "nice": false, "zero": false}, "axis": {"values": [0, 100000, 200000, 300000], "format": "d"}}},
 "layer": [
  {"mark": {"type": "area", "color": "#2ee6b6", "opacity": 0.25}, "encoding": {"y": {"field": "lo", "type": "quantitative", "title": "Value", "scale": {"domain": [7, 55], "nice": false, "zero": false}, "axis": {"values": [20, 40], "format": "d"}}, "y2": {"field": "hi"}}},
  {"mark": {"type": "line", "strokeWidth": 1.1}, "encoding": {"y": {"field": "Value", "type": "quantitative", "title": "Value", "scale": {"domain": [7, 55], "nice": false, "zero": false}}, "color": {"datum": "test", "type": "nominal", "scale": {"range": ["#2ee6b6"]}, "legend": {"title": "source", "orient": "none", "legendX": 36, "legendY": 2}}}}
 ]},
{"title": "Save Location Count", "width": 100, "height": 37, "data": {"name": "saveloc"},
 "encoding": {"x": {"field": "Step", "type": "quantitative", "title": "Step", "scale": {"domain": [-9750, 314750], "nice": false, "zero": false}, "axis": {"values": [0, 100000, 200000, 300000], "format": "d"}}},
 "layer": [
  {"mark": {"type": "area", "color": "#2ee6b6", "opacity": 0.25}, "encoding": {"y": {"field": "lo", "type": "quantitative", "title": "Value", "scale": {"domain": [-0.055, 0.055], "nice": false, "zero": false}, "axis": {"values": [-0.05, 0, 0.05], "format": ".2f"}}, "y2": {"field": "hi"}}},
  {"mark": {"type": "line", "strokeWidth": 1.1}, "encoding": {"y": {"field": "Value", "type": "quantitative", "title": "Value", "scale": {"domain": [-0.055, 0.055], "nice": false, "zero": false}}, "color": {"datum": "test", "type": "nominal", "scale": {"range": ["#2ee6b6"]}, "legend": {"title": "source", "orient": "top-right"}}}}
 ]},
{"title": "Out of Energy Count", "width": 100, "height": 37, "data": {"name": "outenergy"},
 "encoding": {"x": {"field": "Step", "type": "quantitative", "title": "Step", "scale": {"domain": [-9750, 314750], "nice": false, "zero": false}, "axis": {"values": [0, 100000, 200000, 300000], "format": "d"}}},
 "layer": [
  {"mark": {"type": "area", "color": "#2ee6b6", "opacity": 0.25}, "encoding": {"y": {"field": "lo", "type": "quantitative", "title": "Value", "scale": {"domain": [-0.025, 0.55], "nice": false, "zero": false}, "axis": {"values": [0, 0.2, 0.4], "format": ".1f"}}, "y2": {"field": "hi"}}},
  {"mark": {"type": "line", "strokeWidth": 1.1}, "encoding": {"y": {"field": "Value", "type": "quantitative", "title": "Value", "scale": {"domain": [-0.025, 0.55], "nice": false, "zero": false}}, "color": {"datum": "test", "type": "nominal", "scale": {"range": ["#2ee6b6"]}, "legend": {"title": "source", "orient": "top-right"}}}}
 ]},
{"title": "Cumulative Distance Until Tree Drop", "width": 100, "height": 37, "data": {"name": "cumdist"},
 "encoding": {"x": {"field": "Step", "type": "quantitative", "title": "Step", "scale": {"domain": [-9750, 314750], "nice": false, "zero": false}, "axis": {"values": [0, 100000, 200000, 300000], "format": "d"}}},
 "layer": [
  {"mark": {"type": "area", "color": "#2ee6b6", "opacity": 0.25}, "encoding": {"y": {"field": "lo", "type": "quantitative", "title": "Value", "scale": {"domain": [7, 73], "nice": false, "zero": false}, "axis": {"values": [25, 50], "format": "d"}}, "y2": {"field": "hi"}}},
  {"mark": {"type": "line", "strokeWidth": 1.1}, "encoding": {"y": {"field": "Value", "type": "quantitative", "title": "Value", "scale": {"domain": [7, 73], "nice": false, "zero": false}}, "color": {"datum": "test", "type": "nominal", "scale": {"range": ["#2ee6b6"]}, "legend": {"title": "source", "orient": "none", "legendX": 35, "legendY": 17}}}}
 ]},
{"title": "Cumulative Tree Drop Reward", "width": 100, "height": 37, "data": {"name": "treereward"},
 "encoding": {"x": {"field": "Step", "type": "quantitative", "title": "Step", "scale": {"domain": [-9750, 314750], "nice": false, "zero": false}, "axis": {"values": [0, 100000, 200000, 300000], "format": "d"}}},
 "layer": [
  {"mark": {"type": "area", "color": "#2ee6b6", "opacity": 0.25}, "encoding": {"y": {"field": "lo", "type": "quantitative", "title": "Value", "scale": {"domain": [0.75, 6.3], "nice": false, "zero": false}, "axis": {"values": [2, 4, 6], "format": "d"}}, "y2": {"field": "hi"}}},
  {"mark": {"type": "line", "strokeWidth": 1.1}, "encoding": {"y": {"field": "Value", "type": "quantitative", "title": "Value", "scale": {"domain": [0.75, 6.3], "nice": false, "zero": false}}, "color": {"datum": "test", "type": "nominal", "scale": {"range": ["#2ee6b6"]}, "legend": {"title": "source", "orient": "none", "legendX": 37, "legendY": 17}}}}
 ]},
{"title": "Cumulative Distance Reward", "width": 100, "height": 37, "data": {"name": "distreward"},
 "encoding": {"x": {"field": "Step", "type": "quantitative", "title": "Step", "scale": {"domain": [-9750, 314750], "nice": false, "zero": false}, "axis": {"values": [0, 100000, 200000, 300000], "format": "d"}}},
 "layer": [
  {"mark": {"type": "area", "color": "#2ee6b6", "opacity": 0.25}, "encoding": {"y": {"field": "lo", "type": "quantitative", "title": "Value", "scale": {"domain": [0.1, 1.9], "nice": false, "zero": false}, "axis": {"values": [0.5, 1.0, 1.5], "format": ".1f"}}, "y2": {"field": "hi"}}},
  {"mark": {"type": "line", "strokeWidth": 1.1}, "encoding": {"y": {"field": "Value", "type": "quantitative", "title": "Value", "scale": {"domain": [0.1, 1.9], "nice": false, "zero": false}}, "color": {"datum": "test", "type": "nominal", "scale": {"range": ["#2ee6b6"]}, "legend": {"title": "source", "orient": "none", "legendX": 37, "legendY": 17}}}}
 ]},
{"title": "Cumulative Normalized Distance Until Tree Drop", "width": 100, "height": 37, "data": {"name": "normdist"},
 "encoding": {"x": {"field": "Step", "type": "quantitative", "title": "Step", "scale": {"domain": [-9750, 314750], "nice": false, "zero": false}, "axis": {"values": [0, 100000, 200000, 300000], "format": "d"}}},
 "layer": [
  {"mark": {"type": "area", "color": "#2ee6b6", "opacity": 0.25}, "encoding": {"y": {"field": "lo", "type": "quantitative", "title": "Value", "scale": {"domain": [0.012, 0.185], "nice": false, "zero": false}, "axis": {"values": [0.05, 0.1, 0.15], "format": ".2f"}}, "y2": {"field": "hi"}}},
  {"mark": {"type": "line", "strokeWidth": 1.1}, "encoding": {"y": {"field": "Value", "type": "quantitative", "title": "Value", "scale": {"domain": [0.012, 0.185], "nice": false, "zero": false}}, "color": {"datum": "test", "type": "nominal", "scale": {"range": ["#2ee6b6"]}, "legend": {"title": "source", "orient": "none", "legendX": 38, "legendY": 17}}}}
 ]},
{"title": "Cumulative Distance to Existing Trees", "width": 100, "height": 37, "data": {"name": "existing"},
 "encoding": {"x": {"field": "Step", "type": "quantitative", "title": "Step", "scale": {"domain": [-9750, 314750], "nice": false, "zero": false}, "axis": {"values": [0, 100000, 200000, 300000], "format": "d"}}},
 "layer": [
  {"mark": {"type": "area", "color": "#2ee6b6", "opacity": 0.25}, "encoding": {"y": {"field": "lo", "type": "quantitative", "title": "Value", "scale": {"domain": [20, 81], "nice": false, "zero": false}, "axis": {"values": [25, 50, 75], "format": "d"}}, "y2": {"field": "hi"}}},
  {"mark": {"type": "line", "strokeWidth": 1.1}, "encoding": {"y": {"field": "Value", "type": "quantitative", "title": "Value", "scale": {"domain": [20, 81], "nice": false, "zero": false}}, "color": {"datum": "test", "type": "nominal", "scale": {"range": ["#2ee6b6"]}, "legend": {"title": "source", "orient": "bottom-right"}}}}
 ]},
{"title": "Episode Length", "width": 100, "height": 37, "data": {"name": "eplen"},
 "encoding": {"x": {"field": "Step", "type": "quantitative", "title": "Step", "scale": {"domain": [-9750, 314750], "nice": false, "zero": false}, "axis": {"values": [0, 100000, 200000, 300000], "format": "d"}}},
 "layer": [
  {"mark": {"type": "area", "color": "#2ee6b6", "opacity": 0.25}, "encoding": {"y": {"field": "lo", "type": "quantitative", "title": "Value", "scale": {"domain": [29, 351], "nice": false, "zero": false}, "axis": {"values": [100, 200, 300], "format": "d"}}, "y2": {"field": "hi"}}},
  {"mark": {"type": "line", "strokeWidth": 1.1}, "encoding": {"y": {"field": "Value", "type": "quantitative", "title": "Value", "scale": {"domain": [29, 351], "nice": false, "zero": false}}, "color": {"datum": "test", "type": "nominal", "scale": {"range": ["#2ee6b6"]}, "legend": {"title": "source", "orient": "none", "legendX": 36, "legendY": 2}}}}
 ]},
{"title": "Curiosity Value Estimate", "width": 100, "height": 37, "data": {"name": "curval"},
 "encoding": {"x": {"field": "Step", "type": "quantitative", "title": "Step", "scale": {"domain": [-9750, 314750], "nice": false, "zero": false}, "axis": {"values": [0, 100000, 200000, 300000], "format": "d"}}},
 "layer": [
  {"mark": {"type": "area", "color": "#2ee6b6", "opacity": 0.25}, "encoding": {"y": {"field": "lo", "type": "quantitative", "title": "Value", "scale": {"domain": [-0.01, 0.25], "nice": false, "zero": false}, "axis": {"values": [0, 0.1, 0.2], "format": ".1f"}}, "y2": {"field": "hi"}}},
  {"mark": {"type": "line", "strokeWidth": 1.1}, "encoding": {"y": {"field": "Value", "type": "quantitative", "title": "Value", "scale": {"domain": [-0.01, 0.25], "nice": false, "zero": false}}, "color": {"datum": "test", "type": "nominal", "scale": {"range": ["#2ee6b6"]}, "legend": {"title": "source", "orient": "bottom-left"}}}}
 ]},
{"title": "Extrinsic Value Estimate", "width": 100, "height": 37, "data": {"name": "extval"},
 "encoding": {"x": {"field": "Step", "type": "quantitative", "title": "Step", "scale": {"domain": [-9750, 314750], "nice": false, "zero": false}, "axis": {"values": [0, 100000, 200000, 300000], "format": "d"}}},
 "layer": [
  {"mark": {"type": "area", "color": "#2ee6b6", "opacity": 0.25}, "encoding": {"y": {"field": "lo", "type": "quantitative", "title": "Value", "scale": {"domain": [-4, 57], "nice": false, "zero": false}, "axis": {"values": [0, 25, 50], "format": "d"}}, "y2": {"field": "hi"}}},
  {"mark": {"type": "line", "strokeWidth": 1.1}, "encoding": {"y": {"field": "Value", "type": "quantitative", "title": "Value", "scale": {"domain": [-4, 57], "nice": false, "zero": false}}, "color": {"datum": "test", "type": "nominal", "scale": {"range": ["#2ee6b6"]}, "legend": {"title": "source", "orient": "bottom-right"}}}}
 ]},
{"title": "Cumulative Reward", "width": 100, "height": 37, "data": {"name": "cumreward"},
 "encoding": {"x": {"field": "Step", "type": "quantitative", "title": "Step", "scale": {"domain": [-9750, 314750], "nice": false, "zero": false}, "axis": {"values": [0, 100000, 200000, 300000], "format": "d"}}},
 "layer": [
  {"mark": {"type": "area", "color": "#2ee6b6", "opacity": 0.25}, "encoding": {"y": {"field": "lo", "type": "quantitative", "title": "Value", "scale": {"domain": [43, 107.5], "nice": false, "zero": false}, "axis": {"values": [50, 75, 100], "format": "d"}}, "y2": {"field": "hi"}}},
  {"mark": {"type": "line", "strokeWidth": 1.1}, "encoding": {"y": {"field": "Value", "type": "quantitative", "title": "Value", "scale": {"domain": [43, 107.5], "nice": false, "zero": false}}, "color": {"datum": "test", "type": "nominal", "scale": {"range": ["#2ee6b6"]}, "legend": {"title": "source", "orient": "bottom-right"}}}}
 ]},
{"title": "Curiosity Reward", "width": 100, "height": 37, "data": {"name": "curreward"},
 "encoding": {"x": {"field": "Step", "type": "quantitative", "title": "Step", "scale": {"domain": [-9750, 314750], "nice": false, "zero": false}, "axis": {"values": [0, 100000, 200000, 300000], "format": "d"}}},
 "layer": [
  {"mark": {"type": "area", "color": "#2ee6b6", "opacity": 0.25}, "encoding": {"y": {"field": "lo", "type": "quantitative", "title": "Value", "scale": {"domain": [-2.5, 34.5], "nice": false, "zero": false}, "axis": {"values": [0, 20], "format": "d"}}, "y2": {"field": "hi"}}},
  {"mark": {"type": "line", "strokeWidth": 1.1}, "encoding": {"y": {"field": "Value", "type": "quantitative", "title": "Value", "scale": {"domain": [-2.5, 34.5], "nice": false, "zero": false}}, "color": {"datum": "test", "type": "nominal", "scale": {"range": ["#2ee6b6"]}, "legend": {"title": "source", "orient": "top-left"}}}}
 ]},
{"title": "Extrinsic Reward", "width": 100, "height": 37, "data": {"name": "extreward"},
 "encoding": {"x": {"field": "Step", "type": "quantitative", "title": "Step", "scale": {"domain": [-9750, 314750], "nice": false, "zero": false}, "axis": {"values": [0, 100000, 200000, 300000], "format": "d"}}},
 "layer": [
  {"mark": {"type": "area", "color": "#2ee6b6", "opacity": 0.25}, "encoding": {"y": {"field": "lo", "type": "quantitative", "title": "Value", "scale": {"domain": [39, 97], "nice": false, "zero": false}, "axis": {"values": [60, 80], "format": "d"}}, "y2": {"field": "hi"}}},
  {"mark": {"type": "line", "strokeWidth": 1.1}, "encoding": {"y": {"field": "Value", "type": "quantitative", "title": "Value", "scale": {"domain": [39, 97], "nice": false, "zero": false}}, "color": {"datum": "test", "type": "nominal", "scale": {"range": ["#2ee6b6"]}, "legend": {"title": "source", "orient": "bottom-right"}}}}
 ]},
{"title": "Policy Loss", "width": 100, "height": 37, "data": {"name": "policy"},
 "encoding": {"x": {"field": "Step", "type": "quantitative", "title": "Step", "scale": {"domain": [-4500, 314500], "nice": false, "zero": false}, "axis": {"values": [0, 100000, 200000, 300000], "format": "d"}}},
 "layer": [
  {"mark": {"type": "area", "color": "#2ee6b6", "opacity": 0.25}, "encoding": {"y": {"field": "lo", "type": "quantitative", "title": "Value", "scale": {"domain": [0.0135, 0.0328], "nice": false, "zero": false}, "axis": {"values": [0.02, 0.03], "format": ".2f"}}, "y2": {"field": "hi"}}},
  {"mark": {"type": "line", "strokeWidth": 1.1}, "encoding": {"y": {"field": "Value", "type": "quantitative", "title": "Value", "scale": {"domain": [0.0135, 0.0328], "nice": false, "zero": false}}, "color": {"datum": "test", "type": "nominal", "scale": {"range": ["#2ee6b6"]}, "legend": {"title": "source", "orient": "bottom-left"}}}}
 ]},
{"title": "Value Loss", "width": 100, "height": 37, "data": {"name": "valueloss"},
 "encoding": {"x": {"field": "Step", "type": "quantitative", "title": "Step", "scale": {"domain": [-4500, 314500], "nice": false, "zero": false}, "axis": {"values": [0, 100000, 200000, 300000], "format": "d"}}},
 "layer": [
  {"mark": {"type": "area", "color": "#2ee6b6", "opacity": 0.25}, "encoding": {"y": {"field": "lo", "type": "quantitative", "title": "Value", "scale": {"domain": [48, 162], "nice": false, "zero": false}, "axis": {"values": [100, 150], "format": "d"}}, "y2": {"field": "hi"}}},
  {"mark": {"type": "line", "strokeWidth": 1.1}, "encoding": {"y": {"field": "Value", "type": "quantitative", "title": "Value", "scale": {"domain": [48, 162], "nice": false, "zero": false}}, "color": {"datum": "test", "type": "nominal", "scale": {"range": ["#2ee6b6"]}, "legend": {"title": "source", "orient": "top-right"}}}}
 ]},
{"title": "Learning Rate", "width": 100, "height": 37, "data": {"name": "lr"},
 "encoding": {"x": {"field": "Step", "type": "quantitative", "title": "Step", "scale": {"domain": [-4500, 314500], "nice": false, "zero": false}, "axis": {"values": [0, 100000, 200000, 300000], "format": "d"}}},
 "layer": [
  {"mark": {"type": "area", "color": "#2ee6b6", "opacity": 0.25}, "encoding": {"y": {"field": "lo", "type": "quantitative", "title": "Value", "scale": {"domain": [-0.055, 0.055], "nice": false, "zero": false}, "axis": {"values": [-0.05, 0, 0.05], "format": ".2f"}}, "y2": {"field": "hi"}}},
  {"mark": {"type": "line", "strokeWidth": 1.1}, "encoding": {"y": {"field": "Value", "type": "quantitative", "title": "Value", "scale": {"domain": [-0.055, 0.055], "nice": false, "zero": false}}, "color": {"datum": "test", "type": "nominal", "scale": {"range": ["#2ee6b6"]}, "legend": {"title": "source", "orient": "top-right"}}}}
 ]},
{"title": "Epsilon", "width": 100, "height": 37, "data": {"name": "eps"},
 "encoding": {"x": {"field": "Step", "type": "quantitative", "title": "Step", "scale": {"domain": [-4500, 314500], "nice": false, "zero": false}, "axis": {"values": [0, 100000, 200000, 300000], "format": "d"}}},
 "layer": [
  {"mark": {"type": "area", "color": "#2ee6b6", "opacity": 0.25}, "encoding": {"y": {"field": "lo", "type": "quantitative", "title": "Value", "scale": {"domain": [0.189, 0.211], "nice": false, "zero": false}, "axis": {"values": [0.19, 0.2, 0.21], "format": ".2f"}}, "y2": {"field": "hi"}}},
  {"mark": {"type": "line", "strokeWidth": 1.1}, "encoding": {"y": {"field": "Value", "type": "quantitative", "title": "Value", "scale": {"domain": [0.189, 0.211], "nice": false, "zero": false}}, "color": {"datum": "test", "type": "nominal", "scale": {"range": ["#2ee6b6"]}, "legend": {"title": "source", "orient": "top-right"}}}}
 ]},
{"title": "Beta", "width": 100, "height": 37, "data": {"name": "beta"},
 "encoding": {"x": {"field": "Step", "type": "quantitative", "title": "Step", "scale": {"domain": [-4500, 314500], "nice": false, "zero": false}, "axis": {"values": [0, 100000, 200000, 300000], "format": "d"}}},
 "layer": [
  {"mark": {"type": "area", "color": "#2ee6b6", "opacity": 0.25}, "encoding": {"y": {"field": "lo", "type": "quantitative", "title": "Value", "scale": {"domain": [0.004725, 0.005275], "nice": false, "zero": false}, "axis": {"values": [0.0048, 0.005, 0.0052], "format": ".4f"}}, "y2": {"field": "hi"}}},
  {"mark": {"type": "line", "strokeWidth": 1.1}, "encoding": {"y": {"field": "Value", "type": "quantitative", "title": "Value", "scale": {"domain": [0.004725, 0.005275], "nice": false, "zero": false}}, "color": {"datum": "test", "type": "nominal", "scale": {"range": ["#2ee6b6"]}, "legend": {"title": "source", "orient": "top-right"}}}}
 ]},
{"title": "Curiosity Forward Loss", "width": 100, "height": 37, "data": {"name": "fwd"},
 "encoding": {"x": {"field": "Step", "type": "quantitative", "title": "Step", "scale": {"domain": [-4500, 314500], "nice": false, "zero": false}, "axis": {"values": [0, 100000, 200000, 300000], "format": "d"}}},
 "layer": [
  {"mark": {"type": "area", "color": "#2ee6b6", "opacity": 0.25}, "encoding": {"y": {"field": "lo", "type": "quantitative", "title": "Value", "scale": {"domain": [-0.055, 1.155], "nice": false, "zero": false}, "axis": {"values": [0, 0.5, 1.0], "format": ".1f"}}, "y2": {"field": "hi"}}},
  {"mark": {"type": "line", "strokeWidth": 1.1}, "encoding": {"y": {"field": "Value", "type": "quantitative", "title": "Value", "scale": {"domain": [-0.055, 1.155], "nice": false, "zero": false}}, "color": {"datum": "test", "type": "nominal", "scale": {"range": ["#2ee6b6"]}, "legend": {"title": "source", "orient": "bottom-right"}}}}
 ]},
{"title": "Curiosity Inverse Loss", "width": 100, "height": 37, "data": {"name": "inv"},
 "encoding": {"x": {"field": "Step", "type": "quantitative", "title": "Step", "scale": {"domain": [-4500, 314500], "nice": false, "zero": false}, "axis": {"values": [0, 100000, 200000, 300000], "format": "d"}}},
 "layer": [
  {"mark": {"type": "area", "color": "#2ee6b6", "opacity": 0.25}, "encoding": {"y": {"field": "lo", "type": "quantitative", "title": "Value", "scale": {"domain": [2.13, 3.78], "nice": false, "zero": false}, "axis": {"values": [2.5, 3.0, 3.5], "format": ".1f"}}, "y2": {"field": "hi"}}},
  {"mark": {"type": "line", "strokeWidth": 1.1}, "encoding": {"y": {"field": "Value", "type": "quantitative", "title": "Value", "scale": {"domain": [2.13, 3.78], "nice": false, "zero": false}}, "color": {"datum": "test", "type": "nominal", "scale": {"range": ["#2ee6b6"]}, "legend": {"title": "source", "orient": "none", "legendX": 70, "legendY": 10}}}}
 ]}
]
}
